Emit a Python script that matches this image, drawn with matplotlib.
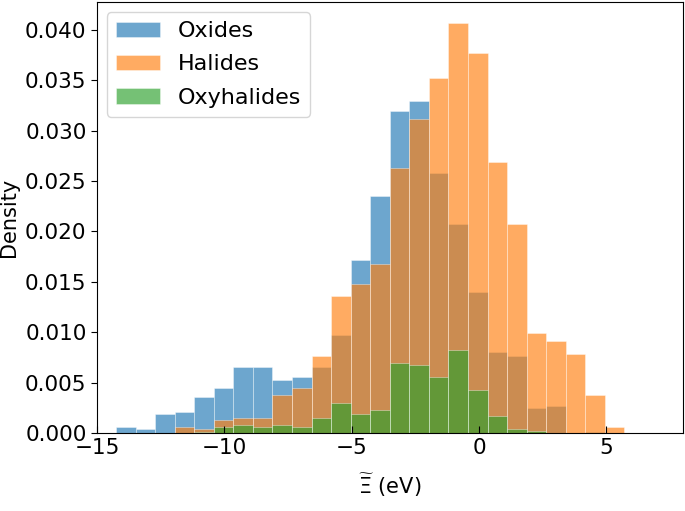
import numpy as np
import matplotlib
matplotlib.use("Agg")
import matplotlib.pyplot as plt

# Histogram bin range (26 equal-width bins)
bin_lo, bin_hi, n_bins = -14.25, 5.71, 26

oxides = [0.00056, 0.00037, 0.00188, 0.00204, 0.00353, 0.00448, 0.00652, 0.00652,
          0.00523, 0.00560, 0.00655, 0.00968, 0.01715, 0.02350, 0.03190, 0.03290,
          0.02575, 0.02070, 0.01400, 0.00800, 0.00764, 0.00244, 0.00267, 0.0,
          0.00010, 0.0]
halides = [0.0, 0.0, 0.0, 0.00063, 0.00040, 0.00128, 0.00148, 0.00148,
           0.00375, 0.00448, 0.00764, 0.01360, 0.01478, 0.01680, 0.02630, 0.03114,
           0.03526, 0.04070, 0.03770, 0.02686, 0.02070, 0.00990, 0.00915, 0.00783,
           0.00375, 0.00058]
oxyhalides = [0.0, 0.0, 0.0, 0.0, 0.00010, 0.00063, 0.00076, 0.00063,
              0.00076, 0.00060, 0.00148, 0.00300, 0.00188, 0.00224, 0.00691, 0.00675,
              0.00560, 0.00820, 0.00430, 0.00168, 0.00040, 0.00020, 0.0, 0.0,
              0.0, 0.0]

labels = ["Oxides", "Halides", "Oxyhalides"]
colors = ["tab:blue", "tab:orange", "tab:green"]

edges = np.linspace(bin_lo, bin_hi, n_bins + 1)
width = np.diff(edges)

fig = plt.figure(figsize=(6.85, 5.11), dpi=100)
ax = fig.add_axes([0.1416, 0.1526, 0.855, 0.843])

for vals, lab, col in zip([oxides, halides, oxyhalides], labels, colors):
    ax.bar(edges[:-1], vals, width=width, align="edge", color=col, alpha=0.65,
           edgecolor=(1, 1, 1, 0.08), linewidth=0.4, label=lab)

ax.set_xlim(-15, 8)
ax.set_ylim(0, max(halides) * 1.05)
ax.set_xticks([-15, -10, -5, 0, 5])
ax.set_yticks(np.arange(0, 0.0401, 0.005))
ax.yaxis.set_major_formatter(matplotlib.ticker.FormatStrFormatter("%.3f"))
ax.tick_params(axis="x", direction="in", labelsize=15.5, length=5)
ax.tick_params(axis="y", direction="out", labelsize=15.5, length=4)
ax.set_ylabel("Density", fontsize=15)
ax.set_xlabel(r"$\widetilde{\Xi}$ (eV)", fontsize=15, labelpad=10)
ax.legend(loc="upper left", fontsize=16, borderaxespad=0.45, labelspacing=0.6)

fig.savefig("out.png", dpi=100)
